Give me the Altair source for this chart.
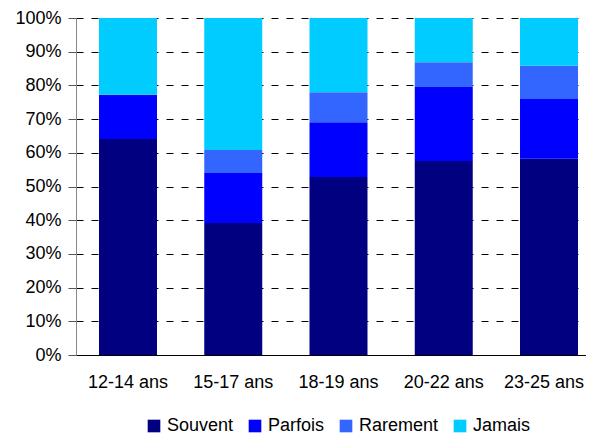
import altair as alt
import pandas as pd

categories = ["12-14 ans", "15-17 ans", "18-19 ans", "20-22 ans", "23-25 ans"]
series = ["Souvent", "Parfois", "Rarement", "Jamais"]
souvent = [64.1, 39.2, 52.8, 57.6, 58.2]
parfois = [13.1, 14.8, 16.3, 21.9, 17.8]
rarement = [0.0, 6.8, 8.9, 7.4, 9.8]
jamais = [22.8, 39.2, 22.0, 13.1, 14.2]
colors = ["#000080", "#0000FF", "#3366FF", "#00CCFF"]

rows = []
for i, c in enumerate(categories):
    for j, (s, vals) in enumerate(zip(series, [souvent, parfois, rarement, jamais])):
        rows.append({"cat": c, "serie": s, "val": vals[i] / 100.0, "ord": j})
df = pd.DataFrame(rows)

font = "Liberation Sans"
fs = 18

bars = alt.Chart(df).mark_bar(stroke=None).encode(
    x=alt.X("cat:N", sort=categories,
            scale=alt.Scale(paddingInner=0.449, paddingOuter=0.2185, range=[0, 525]),
            axis=alt.Axis(title=None, labelAngle=0, labelFontSize=fs, labelColor="#000",
                          labelFont=font, labelPadding=18, ticks=False, domain=True,
                          labelOffset={"condition": {"test": "datum.label == '23-25 ans'", "value": -5}, "value": 0},
                          domainColor="#000", domainWidth=1, grid=False)),
    y=alt.Y("val:Q", stack="zero",
            scale=alt.Scale(domain=[0, 1], nice=False),
            axis=alt.Axis(title=None, format=".0%", values=[i / 10 for i in range(11)],
                          labelFontSize=fs, labelColor="#000", labelFont=font,
                          labelPadding=7, tickSize=8, tickColor="#555", domainColor="#888",
                          grid=True, gridColor="#000", gridDash=[7, 8], gridWidth=1,
                          domain=True)),
    color=alt.Color("serie:N", sort=series,
                    scale=alt.Scale(domain=series, range=colors),
                    legend=alt.Legend(title=None, orient="none", direction="horizontal",
                                      legendX=69, legendY=399,
                                      symbolType="square", symbolSize=160,
                                      symbolStrokeWidth=0, labelFontSize=fs,
                                      labelFont=font, labelColor="#000",
                                      columnPadding=12, labelOffset=4)),
    order=alt.Order("ord:Q"),
)

chart = bars.properties(
    width=510, height=337,
    padding={"left": 68, "top": 10, "right": 0, "bottom": 82},
    autosize=alt.AutoSizeParams(type="none"),
).configure_view(stroke=None)

chart.save("out.html", embed_options={"renderer": "svg", "actions": False})
